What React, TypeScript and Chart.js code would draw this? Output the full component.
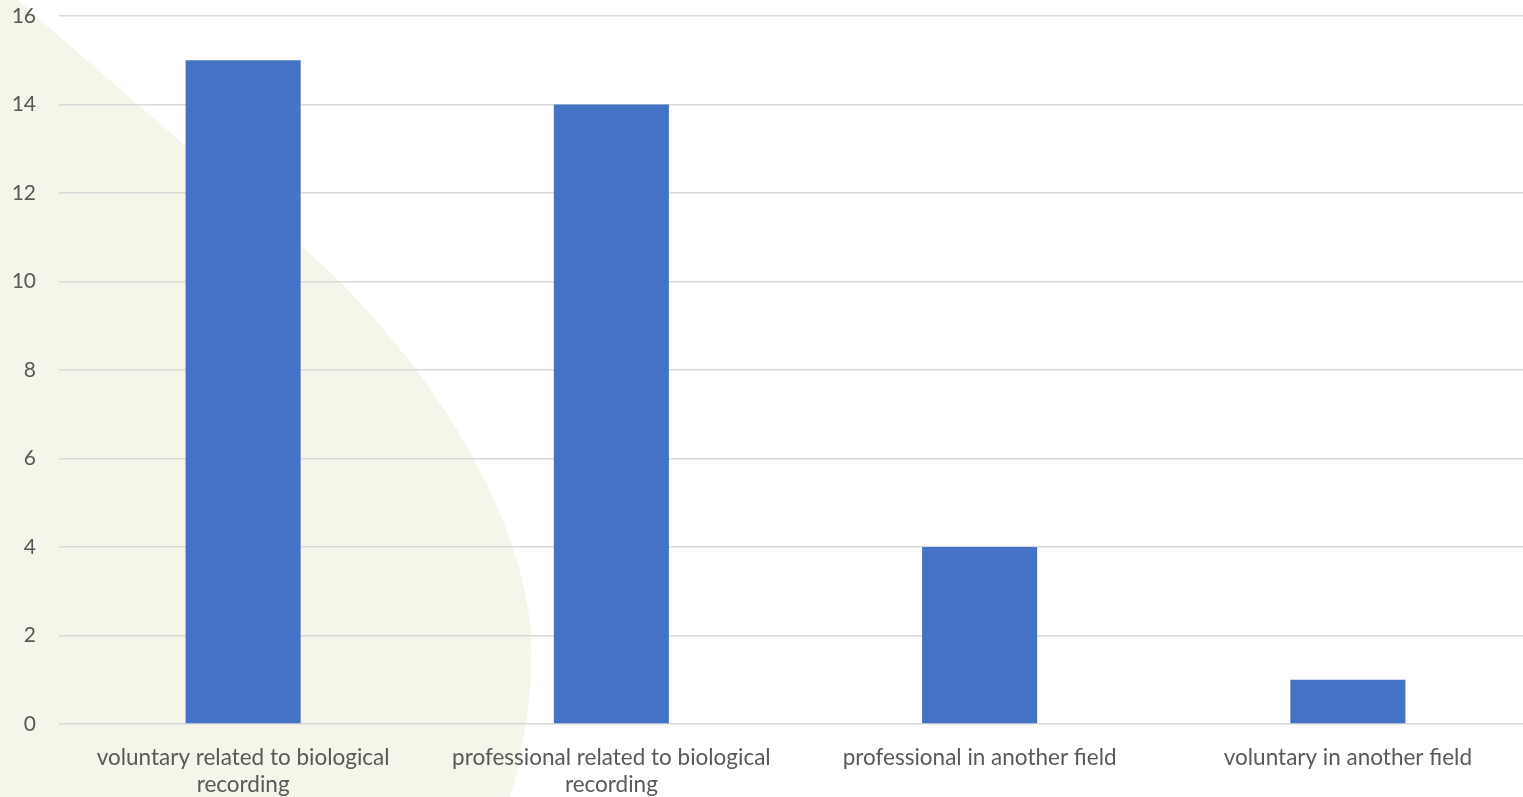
import React, { useEffect, useRef } from "react";
import { Chart, registerables } from "chart.js";

Chart.register(...registerables);

const categories: string[][] = [
  ["voluntary related to biological", "recording"],
  ["professional related to biological", "recording"],
  ["professional in another field"],
  ["voluntary in another field"],
];
const values: number[] = [15, 14, 4, 1];
const yMin = 0;
const yMax = 16;
const yStep = 2;

const FONT = "Lato, 'Open Sans', sans-serif";
const TEXT = "#595959";

const backdrop = {
  id: "backdrop",
  beforeDraw(chart: any) {
    const ctx = chart.ctx as CanvasRenderingContext2D;
    const h = chart.height;
    ctx.save();
    ctx.fillStyle = "#f5f5e9";
    ctx.beginPath();
    ctx.moveTo(0, 0);
    ctx.lineTo(18, 0);
    ctx.lineTo(38, 18);
    ctx.lineTo(300, 245);
    ctx.bezierCurveTo(390, 322, 510, 470, 530, 620);
    ctx.bezierCurveTo(535, 670, 527, 740, 510, h);
    ctx.lineTo(0, h);
    ctx.closePath();
    ctx.fill();
    ctx.restore();
  },
};

export default function App() {
  const ref = useRef<HTMLCanvasElement | null>(null);
  useEffect(() => {
    if (!ref.current) return;
    const chart = new Chart(ref.current, {
      type: "bar",
      data: {
        labels: categories,
        datasets: [
          {
            data: values,
            backgroundColor: "#4472c4",
            borderWidth: 0,
            categoryPercentage: 1,
            barPercentage: 0.3125,
          },
        ],
      },
      options: {
        animation: false,
        responsive: true,
        maintainAspectRatio: false,
        layout: { padding: { top: 16, left: 0, right: 0, bottom: 0 } },
        plugins: { legend: { display: false }, tooltip: { enabled: false } },
        scales: {
          x: {
            grid: { display: false, drawTicks: false },
            border: { display: false },
            ticks: {
              color: TEXT,
              font: { family: FONT, size: 22.5, lineHeight: 1.2 },
              padding: 20,
              maxRotation: 0,
              autoSkip: false,
            },
            afterFit(scale: any) {
              scale.height = 73;
              scale.paddingLeft = 0;
              scale.paddingRight = 0;
            },
          },
          y: {
            min: yMin,
            max: yMax,
            grid: { color: "#d9d9d9", lineWidth: 1.5, drawTicks: false },
            border: { display: false },
            ticks: {
              stepSize: yStep,
              color: TEXT,
              font: { family: FONT, size: 21 },
              padding: 23,
            },
            afterFit(scale: any) {
              scale.width = 59;
              scale.paddingTop = 0;
              scale.paddingBottom = 0;
            },
          },
        },
      },
      plugins: [backdrop],
    });
    return () => chart.destroy();
  }, []);
  return (
    <div
      style={{
        position: "absolute",
        left: 0,
        top: 0,
        width: 1523,
        height: 797,
        overflow: "hidden",
        background: "#ffffff",
      }}
    >
      <div style={{ position: "relative", width: 1532, height: 797 }}>
        <canvas ref={ref} />
      </div>
    </div>
  );
}
